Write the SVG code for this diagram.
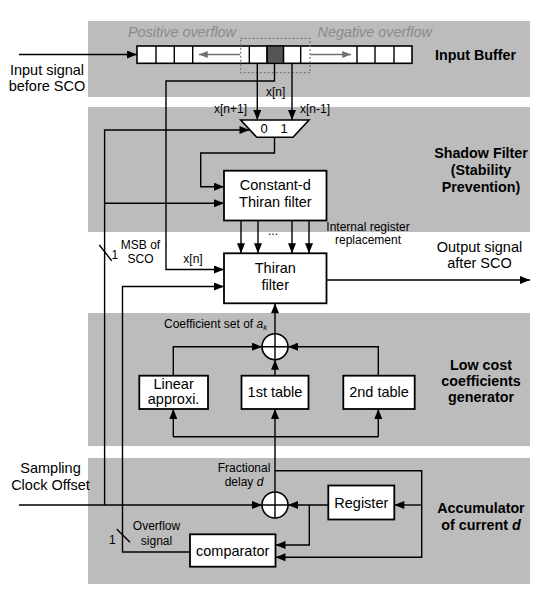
<svg xmlns="http://www.w3.org/2000/svg" width="550" height="597" viewBox="0 0 550 597">
<defs>
<style>
.band{fill:#bcbcbc;stroke:none}
.box{fill:#fff;stroke:#000;stroke-width:1.8}
.ln{fill:none;stroke:#000;stroke-width:1.4}
.arr{fill:none;stroke:#000;stroke-width:1.4;marker-end:url(#ah)}
.garr{fill:none;stroke:#707070;stroke-width:1.4;marker-end:url(#gah)}
.t{font-family:"Liberation Sans",Arial,sans-serif;fill:#000}
.s12{font-size:12px}
.s14{font-size:14.5px}
.b{font-size:14.3px;font-weight:bold}
.m{text-anchor:middle}
.gi{font-style:italic;fill:#8a8a8a;font-size:14.4px}
</style>
<marker id="ah" viewBox="0 0 10 8" refX="10" refY="4" markerWidth="11" markerHeight="8" markerUnits="userSpaceOnUse" orient="auto"><path d="M0,0L10,4L0,8z" fill="#000"/></marker>
<marker id="gah" viewBox="0 0 10 8" refX="10" refY="4" markerWidth="11" markerHeight="7" markerUnits="userSpaceOnUse" orient="auto"><path d="M0,0L10,4L0,8z" fill="#707070"/></marker>
</defs>
<rect width="550" height="597" fill="#fff"/>
<g id="bands">
<rect class="band" x="88" y="21" width="442" height="76"/>
<rect class="band" x="88" y="107" width="442" height="125"/>
<rect class="band" x="88" y="313" width="442" height="133"/>
<rect class="band" x="88" y="458" width="442" height="126"/>
</g>
<g id="section-labels">
<text class="t b" x="435" y="60">Input Buffer</text>
<text class="t b m" x="481" y="158">Shadow Filter</text>
<text class="t b m" x="481" y="175">(Stability</text>
<text class="t b m" x="481" y="192">Prevention)</text>
<text class="t b m" x="481" y="370">Low cost</text>
<text class="t b m" x="481" y="386">coefficients</text>
<text class="t b m" x="481" y="402">generator</text>
<text class="t b m" x="481" y="513">Accumulator</text>
<text class="t b m" x="481" y="530">of current <tspan font-style="italic">d</tspan></text>
</g>
<g id="input-buffer">
<rect x="137" y="46" width="275" height="17.3" fill="#fff" stroke="#000" stroke-width="1.6"/>
<rect x="267" y="46" width="16.5" height="17.3" fill="#555" stroke="#000" stroke-width="1.2"/>
<path class="ln" stroke-width="1.2" d="M156,46V63.3M174.3,46V63.3M192.7,46V63.3M249.3,46V63.3M267,46V63.3M283.5,46V63.3M300.7,46V63.3M357,46V63.3M375,46V63.3M394,46V63.3"/>
<path class="garr" d="M240,54.5H199"/>
<path class="garr" d="M310.5,54.5H351"/>
<rect x="240.7" y="38.3" width="69.3" height="34.4" fill="none" stroke="#777" stroke-width="1.2" stroke-dasharray="2,2"/>
<text class="t gi" x="128" y="37">Positive overflow</text>
<text class="t gi" x="317.5" y="37">Negative overflow</text>
</g>
<g id="mux">
<path d="M240.7,120H309L293,137.3H256.7Z" fill="#fff" stroke="#000" stroke-width="1.6"/>
<text class="t m" font-size="13" x="264" y="132.5">0</text>
<text class="t m" font-size="13" x="284" y="132.5">1</text>
</g>
<g id="constant-d">
<rect class="box" x="224" y="170.7" width="102.5" height="49.8"/>
<text class="t s14 m" x="275.3" y="190">Constant-d</text>
<text class="t s14 m" x="275.3" y="206.7">Thiran filter</text>
</g>
<g id="thiran">
<rect class="box" x="224" y="253.3" width="102.5" height="50"/>
<text class="t s14 m" x="275.3" y="273">Thiran</text>
<text class="t s14 m" x="275.3" y="289.5">filter</text>
</g>
<g id="linear">
<rect class="box" x="139.3" y="375.7" width="68.7" height="33.3"/>
<text class="t s14 m" x="173.6" y="389">Linear</text>
<text class="t s14 m" x="173.6" y="404">approxi.</text>
</g>
<g id="table1">
<rect class="box" x="241.5" y="375.7" width="67" height="33.3"/>
<text class="t s14 m" x="275" y="397">1st table</text>
</g>
<g id="table2">
<rect class="box" x="343.3" y="375.7" width="71.4" height="33.3"/>
<text class="t s14 m" x="379" y="397">2nd table</text>
</g>
<g id="register">
<rect class="box" x="328.3" y="485.5" width="66" height="34"/>
<text class="t s14 m" x="361.3" y="507.5">Register</text>
</g>
<g id="comparator">
<rect class="box" x="190" y="534.3" width="85.5" height="32.4"/>
<text class="t s14 m" x="232.7" y="555.5">comparator</text>
</g>
<g id="connectors">
<path class="arr" d="M19,54.5H137"/>
<path class="arr" d="M257.3,63.3V120"/>
<path class="arr" d="M292,63.3V120"/>
<path class="arr" d="M274.5,63.3V81H166V269.5H224"/>
<path class="arr" d="M104.6,505V130H249.5"/>
<path class="arr" d="M104.6,203.3H224"/>
<path class="arr" d="M274.5,137.3V153H200.7V186.7H224"/>
<path class="arr" d="M241,220.5V253.3"/>
<path class="arr" d="M258,220.5V253.3"/>
<path class="arr" d="M292,220.5V253.3"/>
<path class="arr" d="M309,220.5V253.3"/>
<path class="arr" d="M326.5,280H530"/>
<path class="arr" d="M190,552H122.5V286.5H224"/>
<path class="arr" d="M275,333.7V303.3"/>
<path class="arr" d="M173.3,375.7V346.7H262"/>
<path class="arr" d="M378.3,375.7V346.7H288"/>
<path class="arr" d="M275,375.7V359.7"/>
<path class="arr" d="M275,492V409"/>
<path class="ln" d="M173.3,436.7H378.3"/>
<path class="arr" d="M173.3,436.7V409"/>
<path class="arr" d="M378.3,436.7V409"/>
<path class="arr" d="M19,505H262"/>
<path class="arr" d="M275,470.7H421.7V557.3H275.5"/>
<path class="arr" d="M421.7,505H394.3"/>
<path class="arr" d="M328.3,505H288"/>
<path class="arr" d="M309.3,505V545H275.5"/>
<path class="ln" stroke-width="1" d="M99.3,245L111.7,260.7"/>
<path class="ln" stroke-width="1" d="M116.7,529L130,542.3"/>
</g>
<g id="adder-coef">
<circle cx="275" cy="346.7" r="13" fill="#fff" stroke="#000" stroke-width="1.6"/>
<path class="ln" d="M262,346.7H288M275,333.7V359.7"/>
</g>
<g id="adder-acc">
<circle cx="275" cy="505" r="13" fill="#fff" stroke="#000" stroke-width="1.6"/>
<path class="ln" d="M262,505H288M275,492V518"/>
</g>
<g id="labels">
<text class="t m" font-size="14.5" x="47" y="75">Input signal</text>
<text class="t m" font-size="14.5" x="47" y="91">before SCO</text>
<text class="t s12" x="266" y="96">x[n]</text>
<text class="t s12" x="214" y="113">x[n+1]</text>
<text class="t s12" x="300" y="113">x[n-1]</text>
<text class="t s12 m" x="273" y="235">...</text>
<text class="t s12 m" x="368" y="231">Internal register</text>
<text class="t s12 m" x="368" y="244">replacement</text>
<text class="t s12 m" x="140.5" y="249">MSB of</text>
<text class="t s12 m" x="140.5" y="263">SCO</text>
<text class="t s12" x="111.5" y="259">1</text>
<text class="t s12" x="183.3" y="263">x[n]</text>
<text class="t m" font-size="14.5" x="479.5" y="252">Output signal</text>
<text class="t m" font-size="14.5" x="479.5" y="268">after SCO</text>
<text class="t s12" x="164" y="328.3">Coefficient set of <tspan font-style="italic">a</tspan><tspan font-style="italic" font-size="8" dy="2">k</tspan></text>
<text class="t m" font-size="14.5" x="50.5" y="473">Sampling</text>
<text class="t m" font-size="14.5" x="50.5" y="490">Clock Offset</text>
<text class="t s12 m" x="244" y="471.7">Fractional</text>
<text class="t s12 m" x="244" y="485.7">delay <tspan font-style="italic">d</tspan></text>
<text class="t s12" x="109" y="544.3">1</text>
<text class="t s12 m" x="156.5" y="530">Overflow</text>
<text class="t s12 m" x="156.5" y="545">signal</text>
</g>
</svg>
